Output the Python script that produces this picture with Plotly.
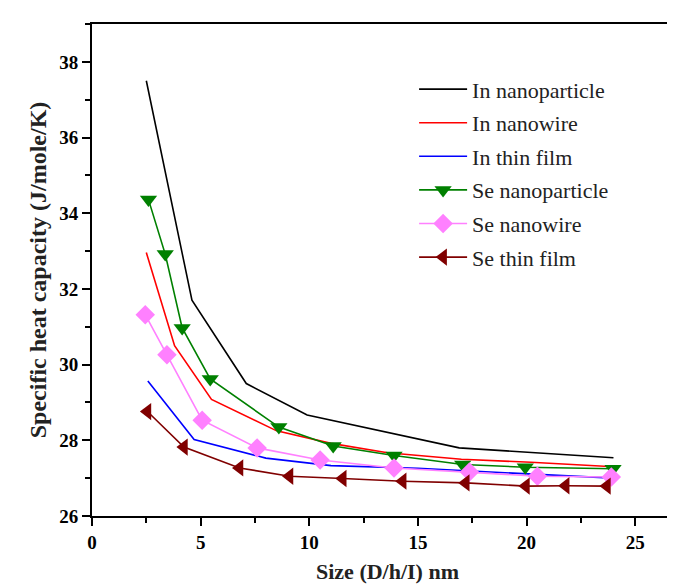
import plotly.graph_objects as go

# In nanoparticle
in_np_x = [2.5, 4.6, 7.1, 9.9, 16.9, 20.2, 24.0]
in_np_y = [37.5, 31.7, 29.5, 28.67, 27.8, 27.67, 27.54]
# In nanowire
in_nw_x = [2.5, 3.8, 5.5, 8.5, 11.0, 13.6, 17.0, 20.2, 24.0]
in_nw_y = [32.96, 30.5, 29.08, 28.25, 27.92, 27.67, 27.5, 27.42, 27.3]
# In thin film
in_tf_x = [2.57, 4.7, 8.0, 11.0, 15.0, 20.8, 24.0]
in_tf_y = [29.57, 28.02, 27.53, 27.33, 27.26, 27.1, 27.0]
# Se nanoparticle
se_np_x = [2.6, 3.37, 4.15, 5.44, 8.6, 11.1, 13.9, 17.06, 19.94, 23.98]
se_np_y = [34.36, 32.92, 30.97, 29.62, 28.35, 27.85, 27.6, 27.36, 27.29, 27.25]
# Se nanowire
se_nw_x = [2.45, 3.45, 5.07, 7.6, 10.5, 13.9, 17.37, 20.5, 23.9]
se_nw_y = [31.32, 30.26, 28.53, 27.8, 27.48, 27.27, 27.16, 27.05, 27.03]
# Se thin film
se_tf_x = [2.55, 4.23, 6.79, 9.09, 11.54, 14.3, 17.2, 19.97, 21.8, 23.7]
se_tf_y = [28.76, 27.82, 27.27, 27.05, 26.99, 26.92, 26.875, 26.79, 26.8, 26.79]

x_ticks = [0, 5, 10, 15, 20, 25]
y_ticks = [26, 28, 30, 32, 34, 36, 38]

SERIF = "Liberation Serif"

fig = go.Figure()
series = [
    ("In nanoparticle", in_np_x, in_np_y, "#000000", None),
    ("In nanowire", in_nw_x, in_nw_y, "#FF0000", None),
    ("In thin film", in_tf_x, in_tf_y, "#0000FF", None),
    ("Se nanoparticle", se_np_x, se_np_y, "#008000", "triangle-down"),
    ("Se nanowire", se_nw_x, se_nw_y, "#FF80FF", "diamond"),
    ("Se thin film", se_tf_x, se_tf_y, "#800000", "triangle-left"),
]
for i, (name, xs, ys, col, sym) in enumerate(series):
    fig.add_trace(go.Scatter(
        x=xs, y=ys, name=name,
        mode="lines+markers" if sym else "lines",
        line=dict(color=col, width=1.6),
        marker=dict(symbol=sym, size=15, color=col) if sym else None,
        legendgroup=str(i),
    ))

fig.update_layout(
    width=675, height=586,
    margin=dict(l=84, r=0, t=16, b=78),
    paper_bgcolor="white", plot_bgcolor="white",
    font=dict(family=SERIF, color="black"),
    showlegend=True,
    legend=dict(
        x=0.545, y=0.91, xanchor="left", yanchor="top",
        font=dict(family=SERIF, size=22, color="#222222"),
        bgcolor="rgba(0,0,0,0)", borderwidth=0,
        tracegroupgap=2, itemwidth=48,
    ),
    xaxis=dict(
        range=[0, 27.2], tickvals=x_ticks, ticktext=[str(v) for v in x_ticks],
        showline=True, linecolor="black", linewidth=2, mirror=True,
        ticks="outside", ticklen=8, tickwidth=1.5, tickcolor="black",
        minor=dict(dtick=2.5, tick0=0, ticks="outside", ticklen=5, tickwidth=1.5, tickcolor="black"),
        showgrid=False, zeroline=False,
        tickfont=dict(family=SERIF, size=19, color="black", weight="bold"),
        title=dict(text="<b>Size (D/h/I) nm</b>", font=dict(family=SERIF, size=22, color="#222222"), standoff=12),
    ),
    yaxis=dict(
        range=[26, 39], tickvals=y_ticks, ticktext=[str(v) for v in y_ticks],
        showline=True, linecolor="black", linewidth=2, mirror=False,
        ticks="outside", ticklen=8, tickwidth=1.5, tickcolor="black",
        minor=dict(dtick=1, tick0=26, ticks="outside", ticklen=5, tickwidth=1.5, tickcolor="black"),
        showgrid=False, zeroline=False,
        tickfont=dict(family=SERIF, size=19, color="black", weight="bold"),
        title=dict(text="<b>Specific heat capacity (J/mole/K)</b>", font=dict(family=SERIF, size=24, color="#222222"), standoff=6),
    ),
)

fig.write_html("out.html")
